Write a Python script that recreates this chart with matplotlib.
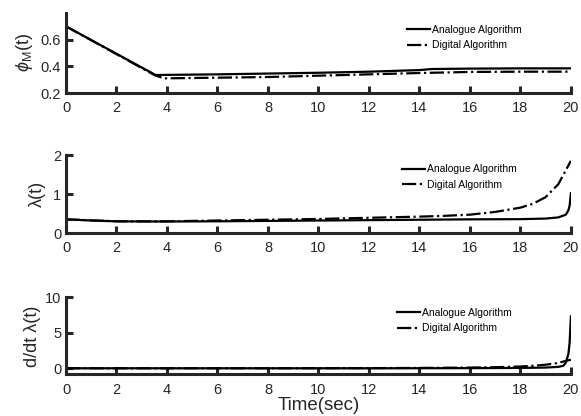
import matplotlib
matplotlib.use('Agg')
import matplotlib.pyplot as plt

plt.rcParams['font.family'] = ['Liberation Sans', 'DejaVu Sans']
plt.rcParams['mathtext.fontset'] = 'custom'
plt.rcParams['mathtext.rm'] = 'Liberation Sans'
plt.rcParams['mathtext.it'] = 'Liberation Sans:italic'

# panel 1: phi_M(t)
t_phi_a = [0, 3.55, 4, 6, 8, 10, 12, 14, 14.5, 16, 18, 20]
phi_analog = [0.70, 0.335, 0.336, 0.340, 0.346, 0.352, 0.360, 0.372, 0.380, 0.383, 0.385, 0.385]
t_phi_d = [0, 3.55, 3.9, 6, 8, 10, 12, 14, 16, 18, 20]
phi_digital = [0.70, 0.330, 0.310, 0.315, 0.320, 0.330, 0.340, 0.350, 0.358, 0.360, 0.360]

# panel 2: lambda(t)
t_lam_a = [0, 1, 2, 3, 4, 6, 8, 10, 12, 14, 16, 18, 19, 19.5, 19.8, 19.9, 19.95, 20]
lam_analog = [0.35, 0.32, 0.30, 0.295, 0.295, 0.30, 0.31, 0.32, 0.33, 0.34, 0.35, 0.355,
              0.37, 0.40, 0.47, 0.58, 0.70, 1.02]
t_lam_d = [0, 2, 4, 6, 8, 10, 12, 14, 15, 16, 17, 18, 18.5, 19, 19.5, 20]
lam_digital = [0.35, 0.30, 0.30, 0.32, 0.34, 0.36, 0.39, 0.42, 0.44, 0.47, 0.54, 0.65,
               0.75, 0.92, 1.25, 1.85]

# panel 3: d/dt lambda(t)
t_dlam_a = [0, 4, 8, 12, 16, 18, 19, 19.5, 19.7, 19.8, 19.9, 19.95, 20]
dlam_analog = [0.0, 0.0, 0.0, 0.0, 0.02, 0.05, 0.10, 0.20, 0.35, 0.8, 2.0, 3.6, 7.3]
t_dlam_d = [0, 4, 8, 12, 14, 16, 17, 18, 18.5, 19, 19.5, 19.8, 20]
dlam_digital = [0.0, 0.0, 0.0, 0.02, 0.05, 0.10, 0.15, 0.25, 0.35, 0.50, 0.75, 1.05, 1.2]

labels = ['Analogue Algorithm', 'Digital Algorithm']
grey = '#262626'

fig = plt.figure(figsize=(5.81, 4.16), dpi=100)
rects = [[0.1136, 0.7764, 0.869, 0.1923],
         [0.1136, 0.4399, 0.869, 0.1875],
         [0.1136, 0.1002, 0.869, 0.1851]]
axes = [fig.add_axes(r) for r in rects]

data = [(t_phi_a, phi_analog, t_phi_d, phi_digital),
        (t_lam_a, lam_analog, t_lam_d, lam_digital),
        (t_dlam_a, dlam_analog, t_dlam_d, dlam_digital)]

for ax, (ta, ya, td, yd) in zip(axes, data):
    ax.plot(ta, ya, color='black', linewidth=1.6, label=labels[0])
    ax.plot(td, yd, color='black', linewidth=1.6, linestyle='-.', label=labels[1])
    ax.set_xlim(0, 20)
    ax.set_xticks(range(0, 21, 2))
    for s in ['top', 'right']:
        ax.spines[s].set_visible(False)
    for s in ['left', 'bottom']:
        ax.spines[s].set_linewidth(2.2)
        ax.spines[s].set_color(grey)
    ax.tick_params(direction='in', length=5, width=2.2, colors=grey, labelsize=10.5)
    ax.tick_params(axis='x', pad=6)
    ax.set_facecolor('none')

axes[0].set_ylim(0.2, 0.8)
axes[0].set_yticks([0.2, 0.4, 0.6])
axes[0].set_yticklabels(['0.2', '0.4', '0.6'])
axes[0].set_ylabel(r'$\phi_{\mathrm{M}}$(t)', fontsize=13, color=grey, labelpad=4)

axes[1].set_ylim(0, 2)
axes[1].set_yticks([0, 1, 2])
axes[1].set_ylabel('λ(t)', fontsize=13, color=grey, labelpad=5)

axes[2].set_ylim(-0.85, 10)
axes[2].set_yticks([0, 5, 10])
axes[2].set_ylabel('d/dt λ(t)', fontsize=13, color=grey, labelpad=3)
axes[2].set_xlabel('Time(sec)', fontsize=13.5, color=grey, labelpad=0)

anchors = [(0.675, 0.85), (0.665, 0.88), (0.655, 0.86)]
for ax, anc in zip(axes, anchors):
    ax.legend(loc='upper left', bbox_to_anchor=anc, frameon=False, fontsize=7.5,
              handlelength=2.2, handletextpad=0.2, labelspacing=0.5,
              borderaxespad=0, borderpad=0)

fig.savefig('out.png', dpi=100)
